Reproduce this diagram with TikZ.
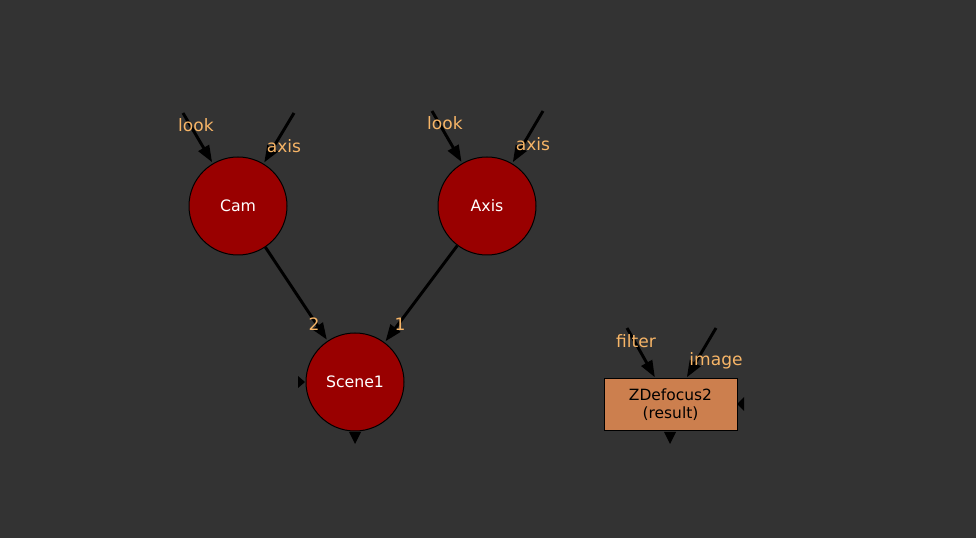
\documentclass[tikz,border=0pt]{standalone}
\usepackage{fontspec}
\setmainfont{DejaVu Sans}
\usetikzlibrary{arrows.meta}
\definecolor{bg}{HTML}{333333}
\definecolor{nodered}{HTML}{990000}
\definecolor{lbl}{HTML}{F7B567}
\definecolor{boxfill}{HTML}{CC7F4E}
\begin{document}
\begin{tikzpicture}[x=0.75pt,y=-0.75pt,
  roundnode/.style={circle,draw=black,line width=0.75pt,fill=nodered,minimum size=73.5pt,inner sep=0pt,text=white,font=\fontsize{11.8}{13}\selectfont},
  boxnode/.style={rectangle,draw=black,line width=0.75pt,fill=boxfill,minimum width=99.75pt,minimum height=39pt,inner sep=0pt,align=center,text=black,font=\fontsize{11.6}{13.5}\selectfont},
  edge/.style={line width=2.2pt,black,-{Triangle[length=12.5pt,width=9pt]},shorten >=1pt},
  lab/.style={text=lbl,font=\fontsize{12.8}{14}\selectfont,inner sep=0pt},
  tri/.style={fill=black,draw=none}]
\useasboundingbox[fill=bg] (0,0) rectangle (976,538);
% nodes
\node[roundnode] (cam) at (238,206) {Cam};
\node[roundnode] (axis) at (487,206) {Axis};
\node[roundnode] (scene) at (355,382) {Scene1};
\node[boxnode] (zdef) at (670.5,405) {ZDefocus2\\(result)};
% free input ends
\coordinate (camlook) at (183,113);
\coordinate (camaxis) at (294,113);
\coordinate (axlook) at (432,111);
\coordinate (axaxis) at (543,111);
\coordinate (zfilter) at (627,328);
\coordinate (zimage) at (716,328);
% connectors
\draw[edge] (camlook) -- (cam);
\draw[edge] (camaxis) -- (cam);
\draw[edge] (axlook) -- (axis);
\draw[edge] (axaxis) -- (axis);
\draw[edge] (cam) -- (scene);
\draw[edge] (axis) -- (scene);
\draw[edge] (zfilter) -- (zdef);
\draw[edge] (zimage) -- (zdef);
% labels
\node[lab] (l1) at (196,125) {look};
\node[lab] (l2) at (284,146) {axis};
\node[lab] (l3) at (445,123) {look};
\node[lab] (l4) at (533,144) {axis};
\node[lab] (l5) at (314,324) {2};
\node[lab] (l6) at (400,324) {1};
\node[lab] (l7) at (636,341) {filter};
\node[lab] (l8) at (716,361) {image};
% small markers
\fill[tri] (298,376) -- (305,382) -- (298,388) -- cycle;
\fill[tri] (349,432) -- (361,432) -- (355,444) -- cycle;
\fill[tri] (744,397) -- (737,404) -- (744,411) -- cycle;
\fill[tri] (664,432) -- (676,432) -- (670,444) -- cycle;
\end{tikzpicture}
\end{document}
